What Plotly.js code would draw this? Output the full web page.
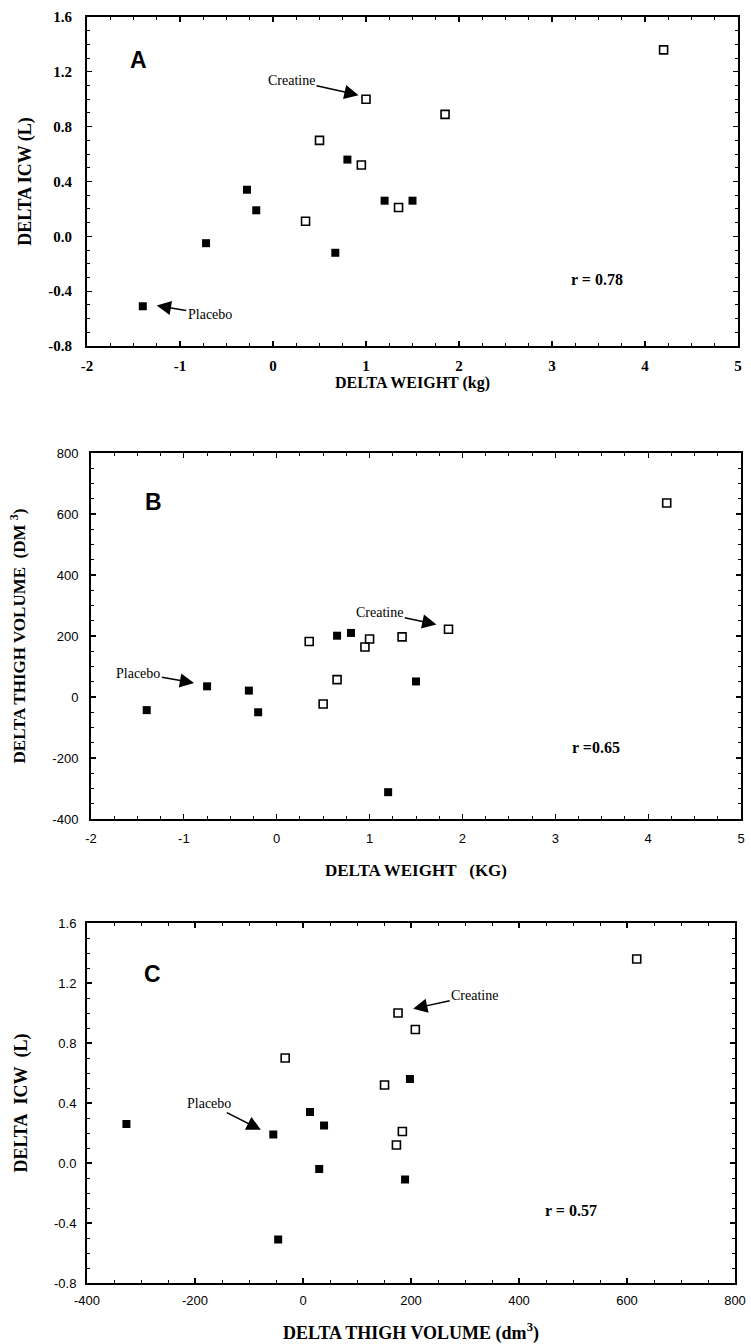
<!DOCTYPE html>
<html>
<head>
<meta charset="utf-8">
<script src="https://cdn.plot.ly/plotly-3.0.1.min.js"></script>
<style>html,body{margin:0;padding:0;background:#fff;}#chart{width:751px;height:1344px;}</style>
</head>
<body>
<div id="chart"></div>
<script>
// Panel A: delta weight (kg) vs delta ICW (L)
const A_creatine_x = [4.2, 1.0, 1.85, 0.5, 0.95, 1.35, 0.35];
const A_creatine_y = [1.36, 1.0, 0.89, 0.70, 0.52, 0.21, 0.11];
const A_placebo_x = [-1.4, -0.72, -0.28, -0.18, 0.67, 0.8, 1.2, 1.5];
const A_placebo_y = [-0.51, -0.05, 0.34, 0.19, -0.12, 0.56, 0.26, 0.26];

// Panel B: delta weight (kg) vs delta thigh volume
const B_creatine_x = [4.2, 1.85, 0.35, 1.0, 0.95, 1.35, 0.65, 0.5];
const B_creatine_y = [636, 222, 182, 190, 164, 197, 57, -23];
const B_placebo_x = [-1.4, -0.75, -0.3, -0.2, 0.65, 0.8, 1.5, 1.2];
const B_placebo_y = [-43, 35, 21, -50, 201, 210, 51, -312];

// Panel C: delta thigh volume vs delta ICW (L)
const C_creatine_x = [618, 176, 208, -33, 151, 184, 173];
const C_creatine_y = [1.36, 1.0, 0.89, 0.70, 0.52, 0.21, 0.12];
const C_placebo_x = [-327, -55, 13, 39, 30, 198, 189, -46];
const C_placebo_y = [0.26, 0.19, 0.34, 0.25, -0.04, 0.56, -0.11, -0.51];

// Tick labels
const weightTicks = [-2, -1, 0, 1, 2, 3, 4, 5];
const weightTickText = ["-2", "-1", "0", "1", "2", "3", "4", "5"];
const icwTicks = [-0.8, -0.4, 0, 0.4, 0.8, 1.2, 1.6];
const icwTickText = ["-0.8", "-0.4", "0.0", "0.4", "0.8", "1.2", "1.6"];
const thighTicksB = [-400, -200, 0, 200, 400, 600, 800];
const thighTickTextB = ["-400", "-200", "0", "200", "400", "600", "800"];
const thighTicksC = [-400, -200, 0, 200, 400, 600, 800];
const thighTickTextC = ["-400", "-200", "0", "200", "400", "600", "800"];

const serif = "Liberation Serif, Times New Roman, serif";
const sans = "Liberation Sans, Arial, sans-serif";

const openMarker = {symbol: "square-open", size: 8, color: "#000", line: {width: 1.6, color: "#000"}};
const filledMarker = {symbol: "square", size: 8, color: "#000", line: {width: 0}};

function tr(x, y, xa, ya, marker, name) {
  return {x: x, y: y, xaxis: xa, yaxis: ya, type: "scatter", mode: "markers",
          marker: marker, name: name, showlegend: false, hoverinfo: "x+y"};
}

const data = [
  tr(A_creatine_x, A_creatine_y, "x", "y", openMarker, "Creatine"),
  tr(A_placebo_x, A_placebo_y, "x", "y", filledMarker, "Placebo"),
  tr(B_creatine_x, B_creatine_y, "x2", "y2", openMarker, "Creatine"),
  tr(B_placebo_x, B_placebo_y, "x2", "y2", filledMarker, "Placebo"),
  tr(C_creatine_x, C_creatine_y, "x3", "y3", openMarker, "Creatine"),
  tr(C_placebo_x, C_placebo_y, "x3", "y3", filledMarker, "Placebo")
];

function minor(d) {
  return {ticks: "inside", ticklen: 3, tickwidth: 1, tickcolor: "#000", dtick: d};
}
function axis(o) {
  const base = {
    showgrid: false, zeroline: false, showline: true, linecolor: "#000", linewidth: 2,
    mirror: "ticks", ticks: "inside", ticklen: 5, tickwidth: 1.2, tickcolor: "#000",
    tickmode: "array", fixedrange: true
  };
  return Object.assign(base, o);
}
const titleFont = (s) => ({family: serif, size: s, color: "#000", weight: "bold"});
const noteFont = {family: serif, size: 14, color: "#000"};
const rFont = {family: serif, size: 16, color: "#000", weight: "bold"};
const letterFont = {family: sans, size: 23, color: "#000", weight: "bold"};

const W = 751, H = 1344;
const layout = {
  width: W, height: H,
  margin: {l: 0, r: 0, t: 0, b: 0},
  paper_bgcolor: "#fff", plot_bgcolor: "#fff",
  showlegend: false,
  // Panel A
  xaxis: axis({domain: [87/W, 738/W], range: [-2, 5], anchor: "y",
    tickvals: weightTicks, ticktext: weightTickText, minor: minor(0.25),
    tickfont: {family: serif, size: 15, color: "#000", weight: "bold"}, ticklabelstandoff: 5,
    title: {text: "DELTA WEIGHT (kg)", font: titleFont(16), standoff: 2}}),
  yaxis: axis({domain: [1 - 346/H, 1 - 17/H], range: [-0.8, 1.6], anchor: "x",
    tickvals: icwTicks, ticktext: icwTickText, minor: minor(0.1),
    tickfont: {family: serif, size: 15, color: "#000", weight: "bold"}, ticklabelstandoff: 10,
    title: {text: "DELTA ICW (L)", font: titleFont(18), standoff: 12}}),
  // Panel B
  xaxis2: axis({domain: [91/W, 741/W], range: [-2, 5], anchor: "y2",
    tickvals: weightTicks, ticktext: weightTickText, minor: minor(0.25),
    tickfont: {family: sans, size: 13, color: "#000"}, ticklabelstandoff: 6,
    title: {text: "DELTA WEIGHT\u00a0\u00a0\u00a0(KG)", font: titleFont(17), standoff: 20}}),
  yaxis2: axis({domain: [1 - 819/H, 1 - 453/H], range: [-400, 800], anchor: "x2",
    tickvals: thighTicksB, ticktext: thighTickTextB, minor: minor(50),
    tickfont: {family: sans, size: 13, color: "#000"}, ticklabelstandoff: 8,
    title: {text: "DELTA THIGH VOLUME\u00a0\u00a0(DM\u00a0<sup>3</sup>)", font: titleFont(17), standoff: 22}}),
  // Panel C
  xaxis3: axis({domain: [87/W, 735/W], range: [-400, 800], anchor: "y3",
    tickvals: thighTicksC, ticktext: thighTickTextC, minor: minor(50),
    tickfont: {family: sans, size: 13, color: "#000"}, ticklabelstandoff: 4,
    title: {text: "DELTA THIGH VOLUME (dm<sup>3</sup>)", font: titleFont(18), standoff: 20}}),
  yaxis3: axis({domain: [1 - 1283/H, 1 - 923/H], range: [-0.8, 1.6], anchor: "x3",
    tickvals: icwTicks, ticktext: icwTickText, minor: minor(0.1),
    tickfont: {family: sans, size: 13, color: "#000"}, ticklabelstandoff: 6,
    title: {text: "DELTA\u00a0\u00a0ICW\u00a0\u00a0(L)", font: titleFont(18), standoff: 22}}),
  annotations: [
    // panel letters
    {xref: "x", yref: "y", x: -1.45, y: 1.29, text: "A", showarrow: false, font: letterFont},
    {xref: "x2", yref: "y2", x: -1.33, y: 638, text: "B", showarrow: false, font: letterFont},
    {xref: "x3", yref: "y3", x: -279, y: 1.257, text: "C", showarrow: false, font: letterFont},
    // r values
    {xref: "x", yref: "y", x: 3.48, y: -0.315, text: "r = 0.78", showarrow: false, font: rFont},
    {xref: "x2", yref: "y2", x: 3.44, y: -165, text: "r =0.65", showarrow: false, font: rFont},
    {xref: "x3", yref: "y3", x: 496, y: -0.316, text: "r = 0.57", showarrow: false, font: rFont},
    // arrows with labels
    {xref: "x", yref: "y", axref: "x", ayref: "y", x: 0.92, y: 1.03, ax: 0.2, ay: 1.14, text: "Creatine",
     showarrow: true, arrowhead: 2, arrowsize: 1.9, arrowwidth: 1.5, arrowcolor: "#000", standoff: 0, font: noteFont},
    {xref: "x", yref: "y", axref: "x", ayref: "y", x: -1.25, y: -0.505, ax: -0.68, ay: -0.57, text: "Placebo",
     showarrow: true, arrowhead: 2, arrowsize: 1.9, arrowwidth: 1.5, arrowcolor: "#000", standoff: 0, font: noteFont},
    {xref: "x2", yref: "y2", axref: "x2", ayref: "y2", x: 1.72, y: 238, ax: 1.11, ay: 277, text: "Creatine",
     showarrow: true, arrowhead: 2, arrowsize: 1.9, arrowwidth: 1.5, arrowcolor: "#000", standoff: 0, font: noteFont},
    {xref: "x2", yref: "y2", axref: "x2", ayref: "y2", x: -0.89, y: 46, ax: -1.49, ay: 78, text: "Placebo",
     showarrow: true, arrowhead: 2, arrowsize: 1.9, arrowwidth: 1.5, arrowcolor: "#000", standoff: 0, font: noteFont},
    {xref: "x3", yref: "y3", axref: "x3", ayref: "y3", x: 204, y: 1.029, ax: 318, ay: 1.117, text: "Creatine",
     showarrow: true, arrowhead: 2, arrowsize: 1.9, arrowwidth: 1.5, arrowcolor: "#000", standoff: 0, font: noteFont},
    {xref: "x3", yref: "y3", axref: "x3", ayref: "y3", x: -78, y: 0.221, ax: -174, ay: 0.396, text: "Placebo",
     showarrow: true, arrowhead: 2, arrowsize: 1.9, arrowwidth: 1.5, arrowcolor: "#000", standoff: 0, font: noteFont}
  ]
};

Plotly.newPlot("chart", data, layout, {displayModeBar: false, staticPlot: true});
</script>
</body>
</html>
